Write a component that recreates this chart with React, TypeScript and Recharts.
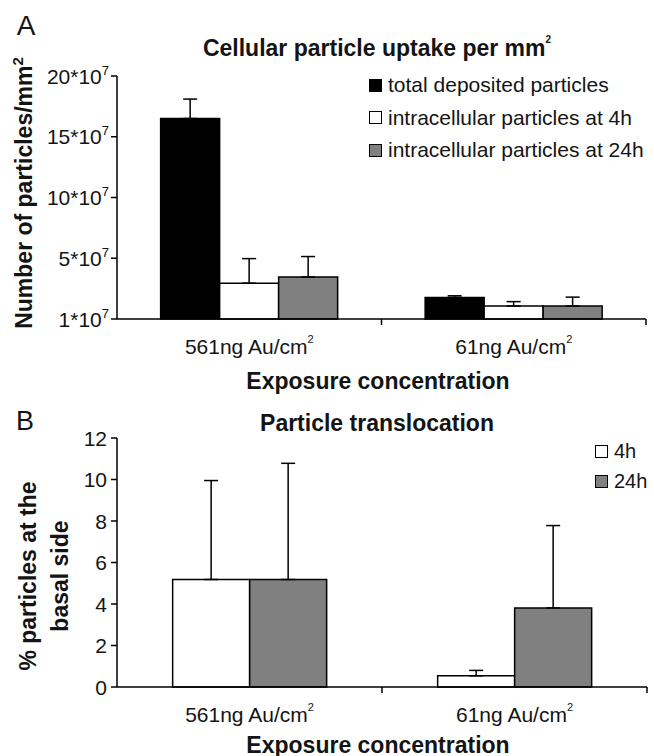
import React from 'react';
import { BarChart, Bar, XAxis, YAxis, ErrorBar, Legend } from 'recharts';

// ---------- data ----------
const categories = ['561ng Au/cm²', '61ng Au/cm²'];

// Panel A: particles per mm² (in units of 10^7)
const uptakeSeriesNames = [
  'total deposited particles',
  'intracellular particles at 4h',
  'intracellular particles at 24h',
];
const totalDeposited = [16.5, 1.77];
const totalDepositedErr = [1.6, 0.14];
const intracellular4h = [2.95, 1.07];
const intracellular4hErr = [2.02, 0.36];
const intracellular24h = [3.46, 1.07];
const intracellular24hErr = [1.68, 0.73];
const uptakeTicks = [0, 5, 10, 15, 20];
const uptakeTickLabels = ['1*10', '5*10', '10*10', '15*10', '20*10'];
const uptakeTickExponent = '7';

// Panel B: % particles at the basal side
const translocationSeriesNames = ['4h', '24h'];
const transloc4h = [5.18, 0.54];
const transloc4hErr = [4.77, 0.26];
const transloc24h = [5.18, 3.81];
const transloc24hErr = [5.6, 3.97];
const translocTicks = [0, 2, 4, 6, 8, 10, 12];

// ---------- styling ----------
const FONT = '"Liberation Sans", Arial, Helvetica, sans-serif';
const TEXT = '#141414';
const GRAY = '#808080';
const uptakeFills = ['#000000', '#ffffff', GRAY];
const translocFills = ['#ffffff', GRAY];

const uptakeData = categories.map((c, i) => ({
  name: c,
  total: totalDeposited[i],
  totalErr: [0, totalDepositedErr[i]],
  h4: intracellular4h[i],
  h4Err: [0, intracellular4hErr[i]],
  h24: intracellular24h[i],
  h24Err: [0, intracellular24hErr[i]],
}));

const translocData = categories.map((c, i) => ({
  name: c,
  h4: transloc4h[i],
  h4Err: [0, transloc4hErr[i]],
  h24: transloc24h[i],
  h24Err: [0, transloc24hErr[i]],
}));

const CategoryTick = (props: any) => {
  const { x, y, payload } = props;
  const label = String(payload.value);
  const hasSup = label.endsWith('²');
  const base = hasSup ? label.slice(0, -1) : label;
  const half = payload.offset ?? 0;
  return (
    <g>
      <line x1={x + half} x2={x + half} y1={y - 6} y2={y} stroke="#000" strokeWidth={1.5} />
      <text x={x} y={y + 29} textAnchor="middle" fontSize={21} fontFamily={FONT} fill={TEXT}>
        {base}
        {hasSup ? (
          <tspan fontSize={11} dy={-11}>
            2
          </tspan>
        ) : null}
      </text>
    </g>
  );
};

const UptakeYTick = (props: any) => {
  const { x, y, payload } = props;
  const idx = uptakeTicks.indexOf(payload.value);
  return (
    <text x={x} y={y + 7.5} textAnchor="end" fontSize={21} fontFamily={FONT} fill={TEXT}>
      {uptakeTickLabels[idx]}
      <tspan fontSize={13} dy={-9}>
        {uptakeTickExponent}
      </tspan>
    </text>
  );
};

const PlainYTick = (props: any) => {
  const { x, y, payload } = props;
  return (
    <text x={x} y={y + 7.5} textAnchor="end" fontSize={21} fontFamily={FONT} fill={TEXT}>
      {payload.value}
    </text>
  );
};

const LegendBox = ({ names, fills, rowH, font }: { names: string[]; fills: string[]; rowH: number; font: number }) => (
  <div style={{ fontFamily: FONT, color: TEXT, fontSize: font }}>
    {names.map((n, i) => (
      <div key={n} style={{ height: rowH, display: 'flex', alignItems: 'center', whiteSpace: 'nowrap' }}>
        <span
          style={{
            display: 'inline-block',
            width: 11,
            height: 11,
            border: '1.5px solid #000',
            background: fills[i],
            marginRight: 6,
          }}
        />
        <span>{n}</span>
      </div>
    ))}
  </div>
);

const abs = (left: number, top: number, extra: React.CSSProperties = {}): React.CSSProperties => ({
  position: 'absolute',
  left,
  top,
  transform: 'translate(-50%, -50%)',
  whiteSpace: 'nowrap',
  fontFamily: FONT,
  color: TEXT,
  lineHeight: 1,
  ...extra,
});

const axisLine = { stroke: '#000', strokeWidth: 1.5 };

export default function App() {
  return (
    <div
      style={{
        position: 'absolute',
        left: 0,
        top: 0,
        width: 654,
        height: 756,
        background: '#fff',
        overflow: 'hidden',
        fontFamily: FONT,
      }}
    >
      {/* Panel A */}
      <div style={{ position: 'absolute', left: 0, top: 0 }}>
        <BarChart
          width={654}
          height={380}
          data={uptakeData}
          margin={{ top: 76, right: 8, left: 0, bottom: 0 }}
          barGap={0}
          barCategoryGap="16.5%"
        >
          <XAxis
            dataKey="name"
            height={61}
            axisLine={axisLine}
            tickLine={false}
            tickSize={6}
            tickMargin={0}
            tick={<CategoryTick />}
            interval={0}
          />
          <YAxis
            width={117}
            domain={[0, 20]}
            ticks={uptakeTicks}
            interval={0}
            axisLine={axisLine}
            tickLine={axisLine}
            tickSize={6}
            tickMargin={2}
            tick={<UptakeYTick />}
          />
          <Legend
            layout="vertical"
            align="center"
            verticalAlign="middle"
            wrapperStyle={{ left: 369, top: 69, width: 285, height: 100 }}
            content={() => <LegendBox names={uptakeSeriesNames} fills={uptakeFills} rowH={32.5} font={21} />}
          />
          <Bar dataKey="total" name={uptakeSeriesNames[0]} fill={uptakeFills[0]} stroke="#000" strokeWidth={1.5} isAnimationActive={false}>
            <ErrorBar dataKey="totalErr" width={7} stroke="#000" strokeWidth={1.5} direction="y" />
          </Bar>
          <Bar dataKey="h4" name={uptakeSeriesNames[1]} fill={uptakeFills[1]} stroke="#000" strokeWidth={1.5} isAnimationActive={false}>
            <ErrorBar dataKey="h4Err" width={7} stroke="#000" strokeWidth={1.5} direction="y" />
          </Bar>
          <Bar dataKey="h24" name={uptakeSeriesNames[2]} fill={uptakeFills[2]} stroke="#000" strokeWidth={1.5} isAnimationActive={false}>
            <ErrorBar dataKey="h24Err" width={7} stroke="#000" strokeWidth={1.5} direction="y" />
          </Bar>
        </BarChart>
      </div>

      {/* Panel B */}
      <div style={{ position: 'absolute', left: 0, top: 380 }}>
        <BarChart
          width={654}
          height={376}
          data={translocData}
          margin={{ top: 58, right: 7, left: 0, bottom: 0 }}
          barGap={0}
          barCategoryGap="21%"
        >
          <XAxis
            dataKey="name"
            height={69}
            axisLine={axisLine}
            tickLine={false}
            tickSize={6}
            tickMargin={0}
            tick={<CategoryTick />}
            interval={0}
          />
          <YAxis
            width={117}
            domain={[0, 12]}
            ticks={translocTicks}
            interval={0}
            axisLine={axisLine}
            tickLine={axisLine}
            tickSize={6}
            tickMargin={4}
            tick={<PlainYTick />}
          />
          <Legend
            layout="vertical"
            align="center"
            verticalAlign="middle"
            wrapperStyle={{ left: 595, top: 56, width: 59, height: 60 }}
            content={() => <LegendBox names={translocationSeriesNames} fills={translocFills} rowH={30} font={20} />}
          />
          <Bar dataKey="h4" name={translocationSeriesNames[0]} fill={translocFills[0]} stroke="#000" strokeWidth={1.5} isAnimationActive={false}>
            <ErrorBar dataKey="h4Err" width={7} stroke="#000" strokeWidth={1.5} direction="y" />
          </Bar>
          <Bar dataKey="h24" name={translocationSeriesNames[1]} fill={translocFills[1]} stroke="#000" strokeWidth={1.5} isAnimationActive={false}>
            <ErrorBar dataKey="h24Err" width={7} stroke="#000" strokeWidth={1.5} direction="y" />
          </Bar>
        </BarChart>
      </div>

      {/* Text overlays */}
      <div style={abs(26, 26, { fontSize: 28 })}>A</div>
      <div style={abs(377, 48, { fontSize: 23, fontWeight: 700 })}>
        Cellular particle uptake per mm<sup style={{ fontSize: 10, verticalAlign: 'top', position: 'relative', top: -2 }}>2</sup>
      </div>
      <div style={abs(24, 193, { fontSize: 23, fontWeight: 700, transform: 'translate(-50%, -50%) rotate(-90deg)' })}>
        Number of particles/mm<sup style={{ fontSize: 15, verticalAlign: 'top', position: 'relative', top: -3 }}>2</sup>
      </div>
      <div style={abs(378, 381, { fontSize: 23, fontWeight: 700 })}>Exposure concentration</div>

      <div style={abs(25, 421, { fontSize: 27 })}>B</div>
      <div style={abs(377, 423, { fontSize: 23, fontWeight: 700 })}>Particle translocation</div>
      <div
        style={abs(44, 576, {
          fontSize: 23,
          fontWeight: 700,
          lineHeight: '32px',
          textAlign: 'center',
          transform: 'translate(-50%, -50%) rotate(-90deg)',
        })}
      >
        % particles at the
        <br />
        basal side
      </div>
      <div style={abs(378, 745, { fontSize: 23, fontWeight: 700 })}>Exposure concentration</div>
    </div>
  );
}
